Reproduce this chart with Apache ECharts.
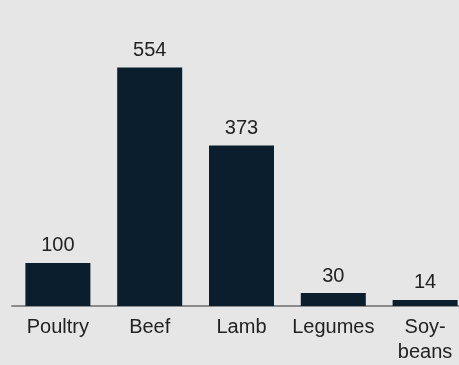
<!DOCTYPE html>
<html>
<head>
<meta charset="utf-8">
<script src="https://cdn.jsdelivr.net/npm/echarts@6/dist/echarts.min.js"></script>
<style>
html,body{margin:0;padding:0;background:#e6e6e6;}
#c{width:459px;height:365px;}
</style>
</head>
<body>
<div id="c"></div>
<script>
var categories = ['Poultry', 'Beef', 'Lamb', 'Legumes', 'Soy-\nbeans'];
var values = [100, 554, 373, 30, 14];

var chart = echarts.init(document.getElementById('c'), null, {renderer: 'canvas'});
chart.setOption({
  backgroundColor: '#e6e6e6',
  animation: false,
  grid: {left: 12, width: 459, top: 47.7, bottom: 59, containLabel: false, outerBoundsMode: 'none'},
  xAxis: {
    type: 'category',
    data: categories,
    axisLine: {show: true, lineStyle: {color: '#8c8c8c', width: 2}},
    axisTick: {show: false},
    axisLabel: {
      color: '#222',
      fontSize: 20,
      fontFamily: 'Liberation Sans, Arial, sans-serif',
      margin: 9,
      lineHeight: 25,
      interval: 0
    }
  },
  yAxis: {
    type: 'value',
    min: 0,
    max: 600,
    show: false,
    splitLine: {show: false}
  },
  series: [{
    type: 'bar',
    data: values,
    barWidth: 65,
    itemStyle: {color: '#0b1e2d'},
    label: {
      show: true,
      position: 'top',
      distance: 7,
      color: '#222',
      fontSize: 20,
      fontFamily: 'Liberation Sans, Arial, sans-serif'
    }
  }]
});
</script>
</body>
</html>
